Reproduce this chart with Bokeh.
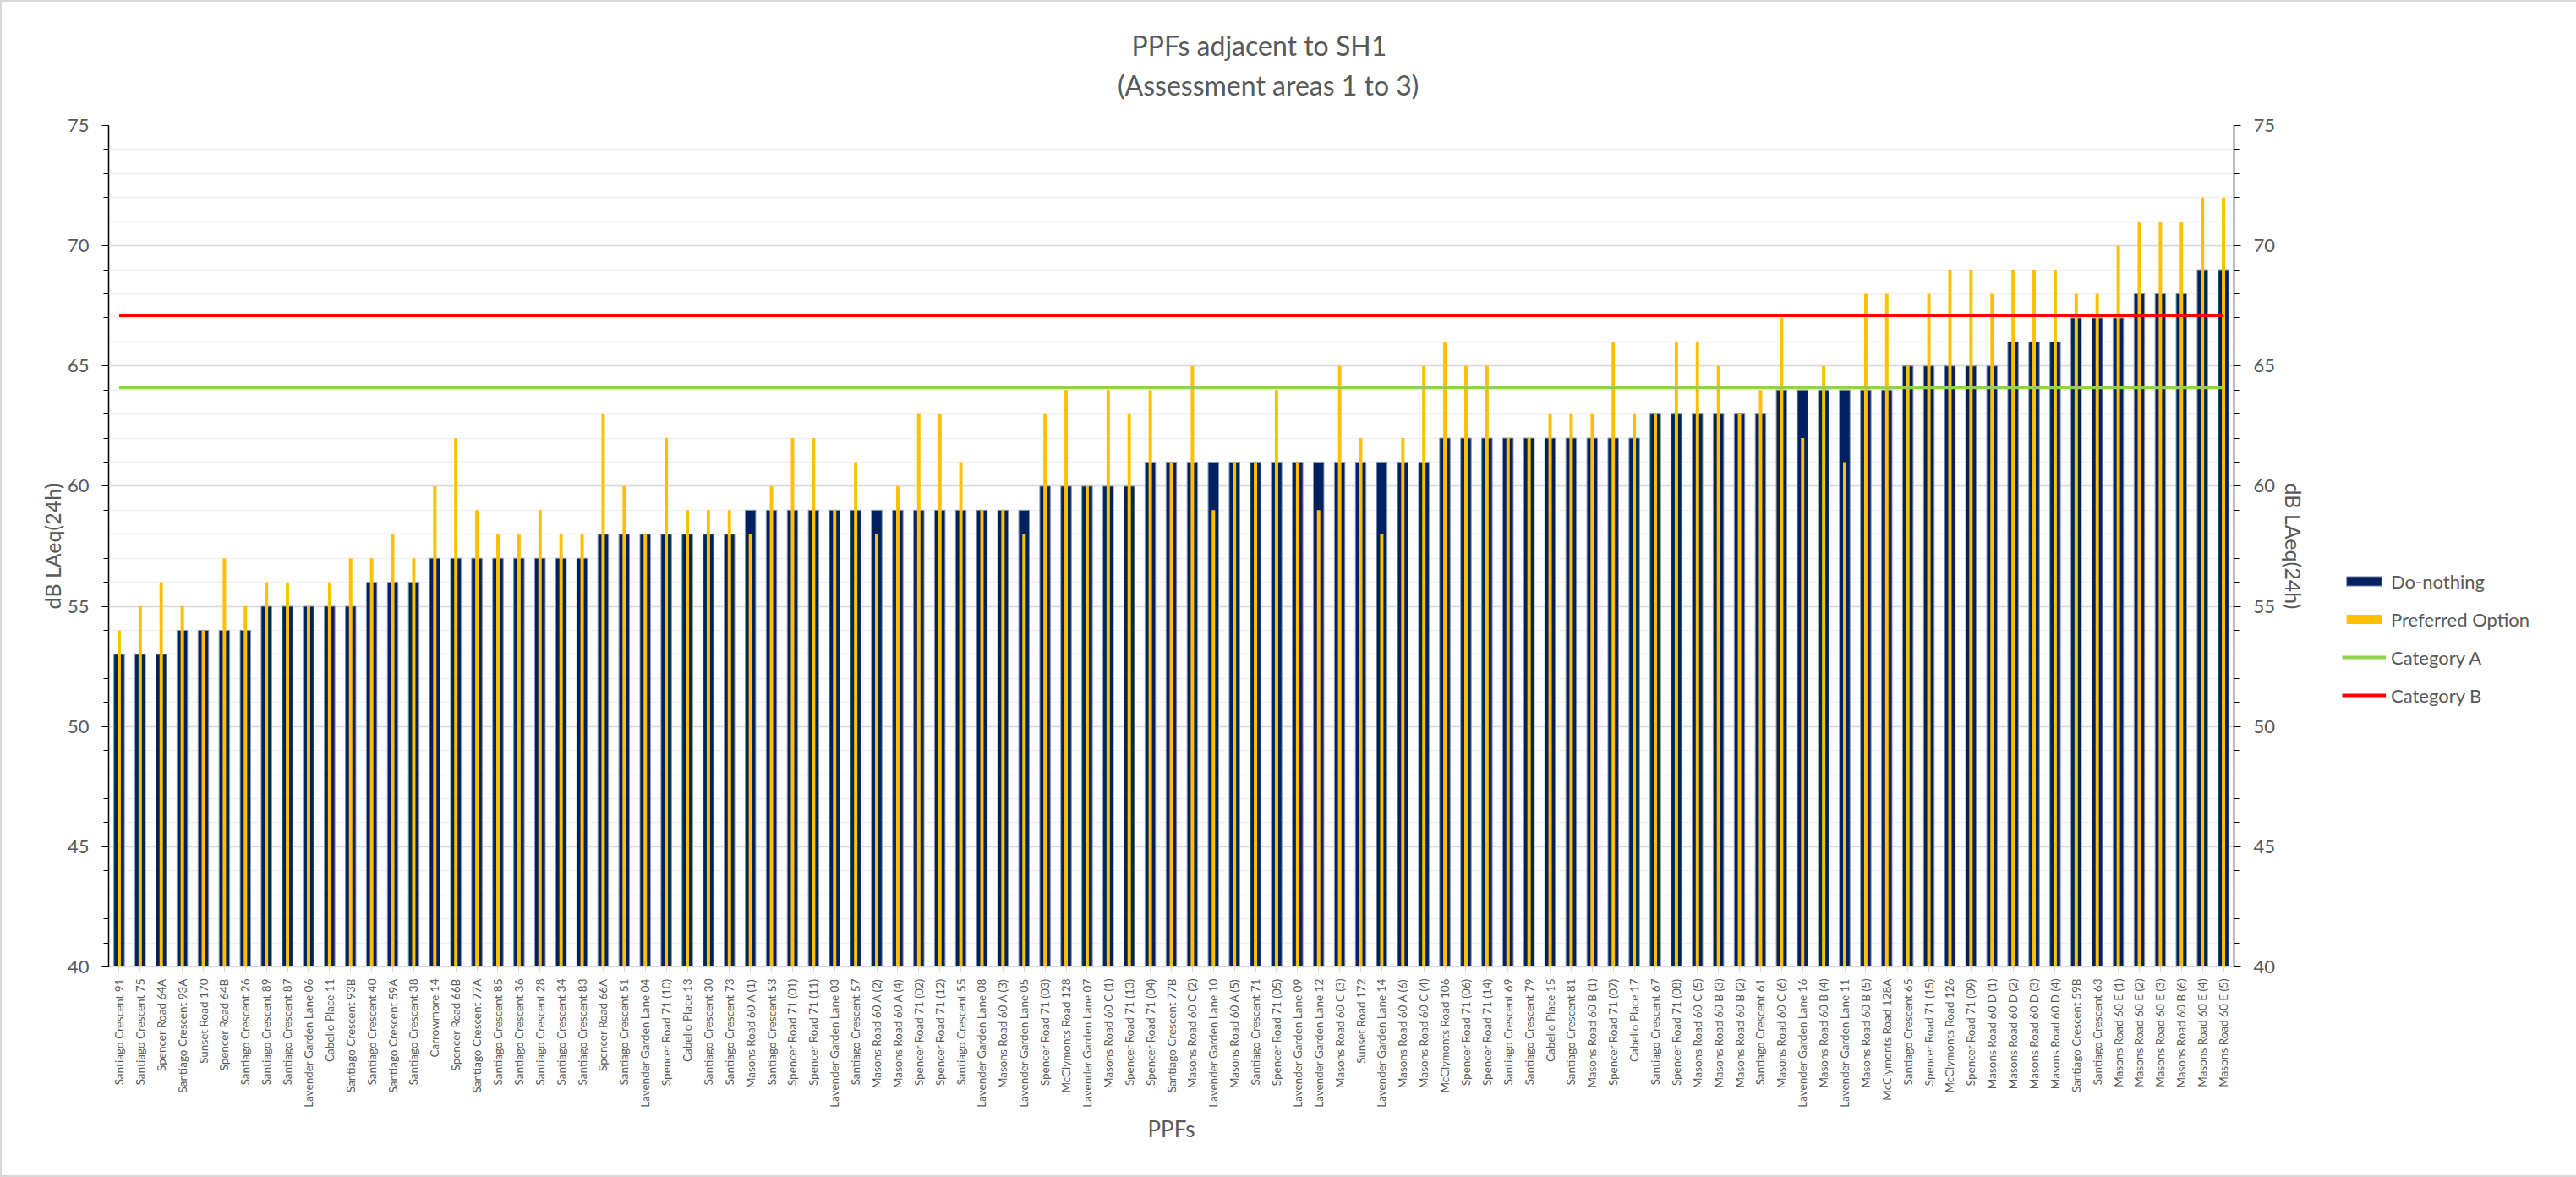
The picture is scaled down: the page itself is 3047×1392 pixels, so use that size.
from math import pi
from bokeh.plotting import figure
from bokeh.models import (FactorRange, Range1d, LinearAxis, SingleIntervalTicker,
                          Title, Legend, LegendItem, ColumnDataSource)
from bokeh.embed import file_html
from bokeh.resources import INLINE

# ---------------- data ----------------
ppfs = [
    "Santiago Crescent 91", "Santiago Crescent 75", "Spencer Road 64A", "Santiago Crescent 93A",
    "Sunset Road 170", "Spencer Road 64B", "Santiago Crescent 26", "Santiago Crescent 89",
    "Santiago Crescent 87", "Lavender Garden Lane 06", "Cabello Place 11", "Santiago Crescent 93B",
    "Santiago Crescent 40", "Santiago Crescent 59A", "Santiago Crescent 38", "Carrowmore 14",
    "Spencer Road 66B", "Santiago Crescent 77A", "Santiago Crescent 85", "Santiago Crescent 36",
    "Santiago Crescent 28", "Santiago Crescent 34", "Santiago Crescent 83", "Spencer Road 66A",
    "Santiago Crescent 51", "Lavender Garden Lane 04", "Spencer Road 71 (10)", "Cabello Place 13",
    "Santiago Crescent 30", "Santiago Crescent 73", "Masons Road 60 A (1)", "Santiago Crescent 53",
    "Spencer Road 71 (01)", "Spencer Road 71 (11)", "Lavender Garden Lane 03", "Santiago Crescent 57",
    "Masons Road 60 A (2)", "Masons Road 60 A (4)", "Spencer Road 71 (02)", "Spencer Road 71 (12)",
    "Santiago Crescent 55", "Lavender Garden Lane 08", "Masons Road 60 A (3)", "Lavender Garden Lane 05",
    "Spencer Road 71 (03)", "McClymonts Road 128", "Lavender Garden Lane 07", "Masons Road 60 C (1)",
    "Spencer Road 71 (13)", "Spencer Road 71 (04)", "Santiago Crescent 77B", "Masons Road 60 C (2)",
    "Lavender Garden Lane 10", "Masons Road 60 A (5)", "Santiago Crescent 71", "Spencer Road 71 (05)",
    "Lavender Garden Lane 09", "Lavender Garden Lane 12", "Masons Road 60 C (3)", "Sunset Road 172",
    "Lavender Garden Lane 14", "Masons Road 60 A (6)", "Masons Road 60 C (4)", "McClymonts Road 106",
    "Spencer Road 71 (06)", "Spencer Road 71 (14)", "Santiago Crescent 69", "Santiago Crescent 79",
    "Cabello Place 15", "Santiago Crescent 81", "Masons Road 60 B (1)", "Spencer Road 71 (07)",
    "Cabello Place 17", "Santiago Crescent 67", "Spencer Road 71 (08)", "Masons Road 60 C (5)",
    "Masons Road 60 B (3)", "Masons Road 60 B (2)", "Santiago Crescent 61", "Masons Road 60 C (6)",
    "Lavender Garden Lane 16", "Masons Road 60 B (4)", "Lavender Garden Lane 11", "Masons Road 60 B (5)",
    "McClymonts Road 128A", "Santiago Crescent 65", "Spencer Road 71 (15)", "McClymonts Road 126",
    "Spencer Road 71 (09)", "Masons Road 60 D (1)", "Masons Road 60 D (2)", "Masons Road 60 D (3)",
    "Masons Road 60 D (4)", "Santiago Crescent 59B", "Santiago Crescent 63", "Masons Road 60 E (1)",
    "Masons Road 60 E (2)", "Masons Road 60 E (3)", "Masons Road 60 B (6)", "Masons Road 60 E (4)",
    "Masons Road 60 E (5)",
]

do_nothing = [
    53, 53, 53, 54, 54, 54, 54, 55, 55, 55, 55, 55, 56, 56, 56, 57, 57, 57, 57, 57,
    57, 57, 57, 58, 58, 58, 58, 58, 58, 58, 59, 59, 59, 59, 59, 59, 59, 59, 59, 59,
    59, 59, 59, 59, 60, 60, 60, 60, 60, 61, 61, 61, 61, 61, 61, 61, 61, 61, 61, 61,
    61, 61, 61, 62, 62, 62, 62, 62, 62, 62, 62, 62, 62, 63, 63, 63, 63, 63, 63, 64,
    64, 64, 64, 64, 64, 65, 65, 65, 65, 65, 66, 66, 66, 67, 67, 67, 68, 68, 68, 69,
    69,
]

preferred_option = [
    54, 55, 56, 55, 54, 57, 55, 56, 56, 55, 56, 57, 57, 58, 57, 60, 62, 59, 58, 58,
    59, 58, 58, 63, 60, 58, 62, 59, 59, 59, 58, 60, 62, 62, 59, 61, 58, 60, 63, 63,
    61, 59, 59, 58, 63, 64, 60, 64, 63, 64, 61, 65, 59, 61, 61, 64, 61, 59, 65, 62,
    58, 62, 65, 66, 65, 65, 62, 62, 63, 63, 63, 66, 63, 63, 66, 66, 65, 63, 64, 67,
    62, 65, 61, 68, 68, 65, 68, 69, 69, 68, 69, 69, 69, 68, 68, 70, 71, 71, 71, 72,
    72,
]

category_a = 64.1
category_b = 67.1

y_min, y_max = 40, 75
title_lines = ["PPFs adjacent to SH1", "(Assessment areas 1 to 3)"]
series_names = ["Do-nothing", "Preferred Option", "Category A", "Category B"]

# ---------------- styling ----------------
FONT = "Lato"
GREY = "#595959"
NAVY = "#002060"
YELLOW = "#FFC000"
GREEN = "#92D050"
RED = "#FF0000"

FRAME_W, FRAME_H = 2514, 995
LEFT, TOP = 128, 148

p = figure(
    x_range=FactorRange(factors=ppfs, range_padding=0),
    y_range=Range1d(y_min, y_max),
    frame_width=FRAME_W, frame_height=FRAME_H,
    min_border_left=LEFT, min_border_right=3047 - LEFT - FRAME_W,
    min_border_top=TOP, min_border_bottom=1392 - TOP - FRAME_H,
    output_backend="svg", toolbar_location=None,
)
p.title = None
p.outline_line_color = None
p.background_fill_color = "white"
p.border_fill_alpha = 0
p.styles = {"outline": "2px solid #D9D9D9", "outline-offset": "-2px"}

src = ColumnDataSource(dict(ppf=ppfs, dn=do_nothing, po=preferred_option,
                            ca=[category_a] * len(ppfs), cb=[category_b] * len(ppfs)))

r_dn = p.vbar(x="ppf", top="dn", bottom=y_min, width=0.5, source=src,
              fill_color=NAVY, line_color="#8497B0", line_width=1)
r_po = p.vbar(x="ppf", top="po", bottom=y_min, width=0.16, source=src,
              fill_color=YELLOW, line_color=None)
r_ca = p.line(x="ppf", y="ca", source=src, line_color=GREEN, line_width=4)
r_cb = p.line(x="ppf", y="cb", source=src, line_color=RED, line_width=4)

# grid
ticker = SingleIntervalTicker(interval=5, num_minor_ticks=5)
p.xgrid.grid_line_color = None
p.ygrid.ticker = ticker
p.ygrid.grid_line_color = "#D9D9D9"
p.ygrid.grid_line_width = 1.5
p.ygrid.minor_grid_line_color = "#F0F0F0"
p.ygrid.minor_grid_line_width = 1.5


def style_y(ax):
    ax.ticker = ticker
    ax.axis_line_color = "black"
    ax.axis_line_width = 1.5
    ax.major_tick_line_color = "black"
    ax.minor_tick_line_color = "black"
    ax.major_tick_in = 0
    ax.major_tick_out = 8
    ax.minor_tick_in = 0
    ax.minor_tick_out = 6
    ax.major_label_text_font = FONT
    ax.major_label_text_font_size = "22px"
    ax.major_label_text_color = GREY
    ax.major_label_standoff = 15
    ax.axis_label = "dB LAeq(24h)"
    ax.axis_label_text_font = FONT
    ax.axis_label_text_font_size = "25px"
    ax.axis_label_text_font_style = "normal"
    ax.axis_label_text_color = GREY


style_y(p.yaxis[0])
p.yaxis[0].axis_label_standoff = 0
right_axis = LinearAxis()
style_y(right_axis)
right_axis.axis_label_standoff = 4
p.add_layout(right_axis, "right")

xa = p.xaxis[0]
xa.major_label_orientation = pi / 2
xa.major_label_text_font = FONT
xa.major_label_text_font_size = "13.5px"
xa.major_label_text_color = GREY
xa.major_label_standoff = 8
xa.axis_line_color = "#D9D9D9"
xa.axis_line_width = 1.5
xa.major_tick_line_color = "#D9D9D9"
xa.major_tick_in = 0
xa.major_tick_out = 6
xa.axis_label = "PPFs"
xa.axis_label_text_font = FONT
xa.axis_label_text_font_size = "26px"
xa.axis_label_text_font_style = "normal"
xa.axis_label_text_color = GREY
xa.axis_label_standoff = 6

# title: two lines, centred over the whole chart (x ~ 1500)
TITLE_PX = 32
TITLE_CX = 1500
title_widths = [324, 357]  # rendered widths of the two lines
spacer = Title(text=" ", text_font_size="10px", standoff=8)
sub = Title(text=title_lines[1], align="left", offset=TITLE_CX - LEFT - title_widths[1] / 2,
            vertical_align="middle", standoff=14,
            text_font=FONT, text_font_size=f"{TITLE_PX}px", text_font_style="normal",
            text_color=GREY)
main = Title(text=title_lines[0], align="left", offset=TITLE_CX - LEFT - title_widths[0] / 2,
             vertical_align="bottom", standoff=0,
             text_font=FONT, text_font_size=f"{TITLE_PX}px", text_font_style="normal",
             text_color=GREY)
p.add_layout(spacer, "above")
p.add_layout(sub, "above")
p.add_layout(main, "above")

legend = Legend(
    items=[LegendItem(label=series_names[0], renderers=[r_dn]),
           LegendItem(label=series_names[1], renderers=[r_po]),
           LegendItem(label=series_names[2], renderers=[r_ca]),
           LegendItem(label=series_names[3], renderers=[r_cb])],
    location=(-185, 307),
    orientation="vertical",
    glyph_width=52, glyph_height=14,
    label_standoff=6, label_height=28, spacing=17,
    padding=0, margin=0,
    border_line_color=None, background_fill_alpha=0,
    label_text_font=FONT, label_text_font_size="22px", label_text_color=GREY,
)
p.add_layout(legend, "right")

open("out.html", "w").write(file_html(p, INLINE))
